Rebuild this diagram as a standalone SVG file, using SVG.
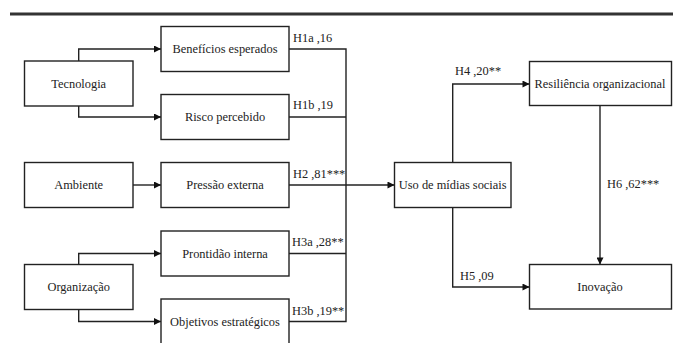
<svg xmlns="http://www.w3.org/2000/svg" width="673" height="343" viewBox="0 0 673 343">
<style>
.box{fill:#fff;stroke:#222;stroke-width:1.4}
text{font-family:'Liberation Serif','Times New Roman',serif;font-size:12.4px;fill:#222}
.t{text-anchor:middle;dominant-baseline:central}
.c{fill:none;stroke:#222;stroke-width:1.4}
.a{marker-end:url(#arr)}
</style>
<defs>
<marker id="arr" viewBox="0 0 10 10" refX="10" refY="5" markerWidth="8" markerHeight="7" markerUnits="userSpaceOnUse" orient="auto">
<path d="M0,0 L10,5 L0,10 Z" fill="#111"/>
</marker>
</defs>
<line x1="10" y1="14" x2="673" y2="14" stroke="#333" stroke-width="3"/>
<g id="connectors">
<path class="c a" d="M78.7,61 V49 H161"/>
<path class="c a" d="M78.7,106 V117 H161"/>
<path class="c a" d="M133,185 H161"/>
<path class="c a" d="M78.7,264.5 V253.5 H161"/>
<path class="c a" d="M78.7,309.5 V321.5 H161"/>
<path class="c" d="M289,49 H346 V321.5 H289"/>
<path class="c" d="M289,117 H346"/>
<path class="c" d="M289,253.5 H346"/>
<path class="c a" d="M289,185 H394.5"/>
<path class="c a" d="M452.7,162.5 V84 H529.5"/>
<path class="c a" d="M452.7,207.5 V287 H529.5"/>
<path class="c a" d="M600,105.5 V264.5"/>
</g>
<g id="tecnologia"><rect class="box" x="24.5" y="61" width="108.5" height="45"/><text class="t" x="78.7" y="83.5">Tecnologia</text></g>
<g id="ambiente"><rect class="box" x="24.5" y="162.5" width="108.5" height="45"/><text class="t" x="78.7" y="185">Ambiente</text></g>
<g id="organizacao"><rect class="box" x="24.5" y="264.5" width="108.5" height="45"/><text class="t" x="78.7" y="287">Organização</text></g>
<g id="beneficios"><rect class="box" x="161" y="26.5" width="128" height="45"/><text class="t" x="225" y="49">Benefícios esperados</text></g>
<g id="risco"><rect class="box" x="161" y="94.5" width="128" height="45"/><text class="t" x="225" y="117">Risco percebido</text></g>
<g id="pressao"><rect class="box" x="161" y="162.5" width="128" height="45"/><text class="t" x="225" y="185">Pressão externa</text></g>
<g id="prontidao"><rect class="box" x="161" y="231" width="128" height="45"/><text class="t" x="225" y="253.5">Prontidão interna</text></g>
<g id="objetivos"><rect class="box" x="161" y="299" width="128" height="45"/><text class="t" x="225" y="321.5">Objetivos estratégicos</text></g>
<g id="uso"><rect class="box" x="394.5" y="162.5" width="116.5" height="45"/><text class="t" x="452.7" y="185">Uso de mídias sociais</text></g>
<g id="resiliencia"><rect class="box" x="529.5" y="61.5" width="142" height="44"/><text class="t" x="600" y="83.5">Resiliência organizacional</text></g>
<g id="inovacao"><rect class="box" x="529.5" y="264.5" width="142" height="44.5"/><text class="t" x="600" y="286.7">Inovação</text></g>
<g id="labels">
<text x="293" y="41.5">H1a ,16</text>
<text x="293" y="109">H1b ,19</text>
<text x="293" y="177.5">H2 ,81***</text>
<text x="292" y="245.5">H3a ,28**</text>
<text x="292" y="314.5">H3b ,19**</text>
<text x="455" y="75">H4 ,20**</text>
<text x="607" y="188">H6 ,62***</text>
<text x="460" y="279.5">H5 ,09</text>
</g>
</svg>
